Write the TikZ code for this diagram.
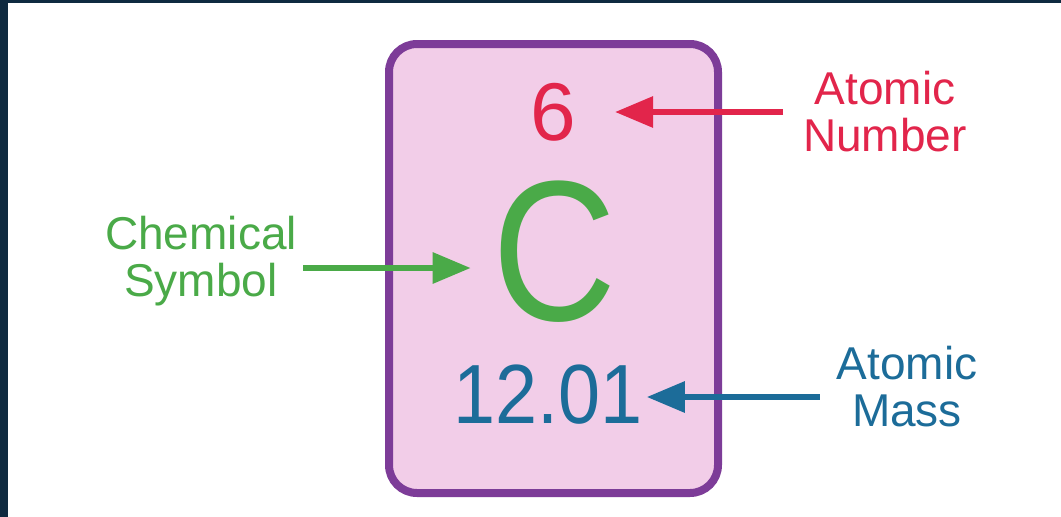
\documentclass[tikz,border=0pt]{standalone}
\usepackage{fontspec}
\setmainfont{Liberation Sans}
\usetikzlibrary{arrows.meta}
\definecolor{navy}{HTML}{0F2A40}
\definecolor{boxfill}{HTML}{F2CDE8}
\definecolor{boxline}{HTML}{7D3C98}
\definecolor{cred}{HTML}{E2254B}
\definecolor{cgreen}{HTML}{4AAA48}
\definecolor{cblue}{HTML}{1C6C99}
\tikzset{
  lbl/.style={inner sep=0pt, align=center, font=\fontsize{46}{47}\selectfont},
  ptr/.style={line width=6pt, -{Triangle[length=38pt,width=30pt]}},
}
\begin{document}
\begin{tikzpicture}[x=1pt,y=-1pt]
\useasboundingbox (0,0) rectangle (1061,517);
\fill[white] (0,0) rectangle (1061,517);
\fill[navy] (0,0) rectangle (8,517);
\fill[navy] (0,0) rectangle (1061,3);
% element box
\draw[line width=8pt, draw=boxline, fill=boxfill, rounded corners=28pt] (389,44) rectangle (718,493);
% contents
\node[inner sep=0pt, text=cred, font=\fontsize{82}{82}\selectfont] (six) at (553,112) {6};
\node[inner sep=0pt, text=cgreen, font=\fontsize{200}{200}\selectfont, xscale=0.86] (sym) at (555,252) {C};
\node[inner sep=0pt, text=cblue, font=\fontsize{84}{84}\selectfont, xscale=0.9] (mass) at (548,395) {12.01};
% labels
\node[lbl, text=cred] (an) at (885,112) {Atomic\\Number};
\node[lbl, text=cgreen] (cs) at (201,261) {Chemical\\Symbol};
\node[lbl, text=cblue] (am) at (907,387) {Atomic\\Mass};
% arrows
\draw[ptr, cred] ([xshift=-20pt]an.west) -- ([xshift=39pt]six.east);
\draw[ptr, cgreen] ([xshift=6pt,yshift=-7pt]cs.east) -- ([xshift=-22pt,yshift=-16pt]sym.west);
\draw[ptr, cblue] ([xshift=-17pt,yshift=-10pt]am.west) -- ([xshift=4pt,yshift=-2pt]mass.east);
\end{tikzpicture}
\end{document}
